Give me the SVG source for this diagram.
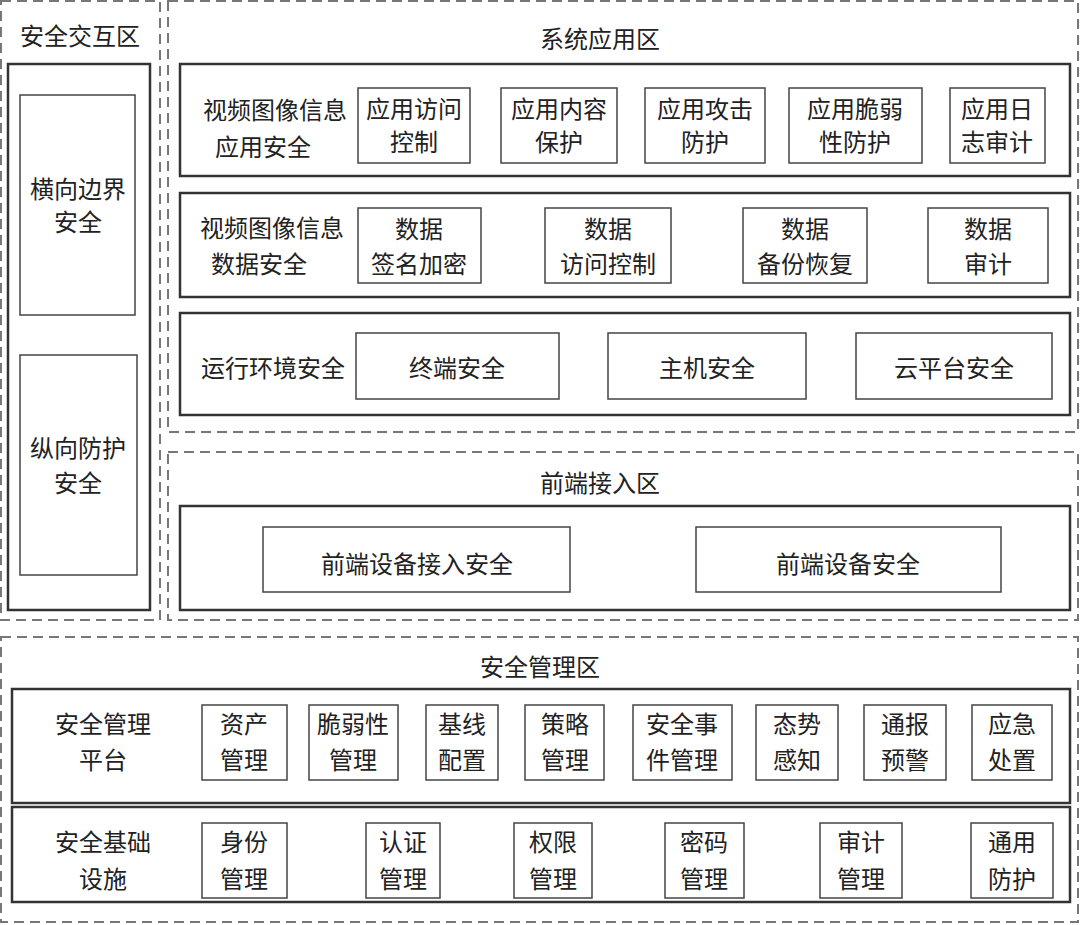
<svg xmlns="http://www.w3.org/2000/svg" width="1080" height="925" viewBox="0 0 1080 925">
<style>
.zone{fill:none;stroke:#777;stroke-width:2;stroke-dasharray:10 6}
.layer{fill:none;stroke:#333;stroke-width:2.5}
.box{fill:#fff;stroke:#444;stroke-width:1.5}
text{font-family:"Noto Sans CJK SC","Liberation Serif",serif;font-size:24px;fill:#222;text-anchor:middle;dominant-baseline:central}
</style>
<rect width="1080" height="925" fill="#fff"/>
<g id="zone-interact">
<rect class="zone" x="1" y="1" width="159" height="619"/>
<text x="80" y="34">安全交互区</text>
<rect class="layer" x="8" y="64" width="142" height="546"/>
<g id="n-hxbj"><rect class="box" x="20" y="95" width="115" height="220"/><text x="78" y="187">横向边界</text><text x="78" y="220">安全</text></g>
<g id="n-zxfh"><rect class="box" x="20" y="355" width="117" height="220"/><text x="78" y="446">纵向防护</text><text x="78" y="481">安全</text></g>
</g>
<g id="zone-system">
<rect class="zone" x="168" y="1" width="910" height="431"/>
<text x="600" y="37">系统应用区</text>
<g id="row-app">
<rect class="layer" x="180" y="64" width="890" height="112"/>
<text x="275" y="108">视频图像信息</text><text x="263" y="145">应用安全</text>
<g id="n-a1"><rect class="box" x="358" y="88" width="112" height="75"/><text x="414" y="107">应用访问</text><text x="414" y="140">控制</text></g>
<g id="n-a2"><rect class="box" x="501" y="88" width="116" height="75"/><text x="559" y="107">应用内容</text><text x="559" y="140">保护</text></g>
<g id="n-a3"><rect class="box" x="645" y="88" width="120" height="75"/><text x="705" y="107">应用攻击</text><text x="705" y="140">防护</text></g>
<g id="n-a4"><rect class="box" x="789" y="88" width="133" height="75"/><text x="855" y="107">应用脆弱</text><text x="855" y="140">性防护</text></g>
<g id="n-a5"><rect class="box" x="950" y="88" width="95" height="75"/><text x="997" y="107">应用日</text><text x="997" y="140">志审计</text></g>
</g>
<g id="row-data">
<rect class="layer" x="180" y="193" width="890" height="104"/>
<text x="272" y="226">视频图像信息</text><text x="259" y="262">数据安全</text>
<g id="n-d1"><rect class="box" x="358" y="208" width="123" height="75"/><text x="419" y="227">数据</text><text x="419" y="262">签名加密</text></g>
<g id="n-d2"><rect class="box" x="545" y="208" width="126" height="75"/><text x="608" y="227">数据</text><text x="608" y="262">访问控制</text></g>
<g id="n-d3"><rect class="box" x="743" y="208" width="124" height="75"/><text x="805" y="227">数据</text><text x="805" y="262">备份恢复</text></g>
<g id="n-d4"><rect class="box" x="928" y="208" width="120" height="75"/><text x="988" y="227">数据</text><text x="988" y="262">审计</text></g>
</g>
<g id="row-env">
<rect class="layer" x="180" y="313" width="890" height="102"/>
<text x="273" y="366">运行环境安全</text>
<g id="n-e1"><rect class="box" x="356" y="333" width="203" height="66"/><text x="457" y="366">终端安全</text></g>
<g id="n-e2"><rect class="box" x="608" y="333" width="198" height="66"/><text x="707" y="366">主机安全</text></g>
<g id="n-e3"><rect class="box" x="856" y="333" width="196" height="66"/><text x="954" y="366">云平台安全</text></g>
</g>
</g>
<g id="zone-front">
<rect class="zone" x="168" y="452" width="910" height="168"/>
<text x="600" y="481">前端接入区</text>
<rect class="layer" x="180" y="506" width="890" height="104"/>
<g id="n-f1"><rect class="box" x="263" y="527" width="307" height="65"/><text x="417" y="562">前端设备接入安全</text></g>
<g id="n-f2"><rect class="box" x="696" y="527" width="305" height="65"/><text x="848" y="562">前端设备安全</text></g>
</g>
<g id="zone-mgmt">
<rect class="zone" x="1" y="637" width="1077" height="285"/>
<text x="540" y="665">安全管理区</text>
<g id="row-platform">
<rect class="layer" x="12" y="689" width="1058" height="114"/>
<text x="103" y="722">安全管理</text><text x="103" y="758">平台</text>
<g id="n-p1"><rect class="box" x="202" y="705" width="85" height="75"/><text x="244" y="722">资产</text><text x="244" y="758">管理</text></g>
<g id="n-p2"><rect class="box" x="309" y="705" width="89" height="75"/><text x="353" y="722">脆弱性</text><text x="353" y="758">管理</text></g>
<g id="n-p3"><rect class="box" x="426" y="705" width="72" height="75"/><text x="462" y="722">基线</text><text x="462" y="758">配置</text></g>
<g id="n-p4"><rect class="box" x="525" y="705" width="79" height="75"/><text x="565" y="722">策略</text><text x="565" y="758">管理</text></g>
<g id="n-p5"><rect class="box" x="633" y="705" width="99" height="75"/><text x="682" y="722">安全事</text><text x="682" y="758">件管理</text></g>
<g id="n-p6"><rect class="box" x="756" y="705" width="82" height="75"/><text x="797" y="722">态势</text><text x="797" y="758">感知</text></g>
<g id="n-p7"><rect class="box" x="864" y="705" width="82" height="75"/><text x="905" y="722">通报</text><text x="905" y="758">预警</text></g>
<g id="n-p8"><rect class="box" x="972" y="705" width="80" height="75"/><text x="1012" y="722">应急</text><text x="1012" y="758">处置</text></g>
</g>
<g id="row-infra">
<rect class="layer" x="12" y="807" width="1058" height="95"/>
<text x="103" y="840">安全基础</text><text x="103" y="877">设施</text>
<g id="n-i1"><rect class="box" x="202" y="823" width="85" height="75"/><text x="244" y="840">身份</text><text x="244" y="877">管理</text></g>
<g id="n-i2"><rect class="box" x="366" y="823" width="74" height="75"/><text x="403" y="840">认证</text><text x="403" y="877">管理</text></g>
<g id="n-i3"><rect class="box" x="514" y="823" width="78" height="75"/><text x="553" y="840">权限</text><text x="553" y="877">管理</text></g>
<g id="n-i4"><rect class="box" x="665" y="823" width="79" height="75"/><text x="704" y="840">密码</text><text x="704" y="877">管理</text></g>
<g id="n-i5"><rect class="box" x="820" y="823" width="82" height="75"/><text x="861" y="840">审计</text><text x="861" y="877">管理</text></g>
<g id="n-i6"><rect class="box" x="971" y="823" width="82" height="75"/><text x="1012" y="840">通用</text><text x="1012" y="877">防护</text></g>
</g>
</g>
<g id="connectors"></g>
</svg>
